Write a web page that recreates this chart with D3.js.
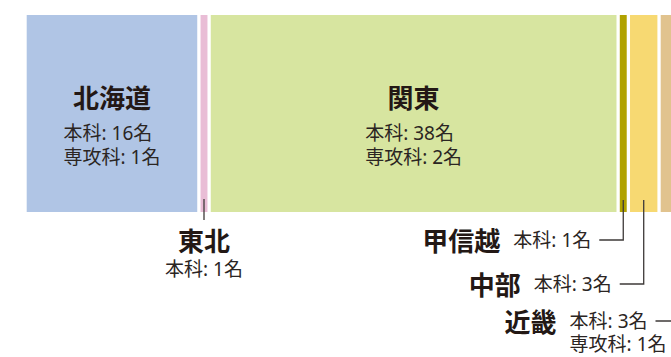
<!DOCTYPE html>
<html lang="ja">
<head>
  <meta charset="UTF-8">
  <title>地域別人数</title>
  <script src="https://d3js.org/d3.v7.min.js"></script>
  <style>
    body { margin: 0; background: #fff; }
    text { font-family: "Noto Sans", "Noto Sans CJK JP", sans-serif; fill: #231815; }
    text.sub { fill: #2b2523; }
  </style>
</head>
<body>
  <div class="canvas"></div>
  <script>
    // 地域ごとの人数（本科・専攻科）
    const regions = ['北海道', '東北', '関東', '甲信越', '中部', '近畿'];
    const honka = [16, 1, 38, 1, 3, 3];
    const senko = [1, 0, 2, 0, 0, 1];

    const palette = ['#b0c5e5', '#e9bdd6', '#d7e5a0', '#b1a200', '#f7d972', '#e1c38e'];

    const width = 671, height = 357;
    const barTop = 15, barBottom = 212, gap = 3.3;

    const svg = d3.select('.canvas')
      .append('svg')
      .attr('width', width)
      .attr('height', height);

    // 累積で横位置を決める
    const data = regions.map((name, i) => ({ name, honka: honka[i], senko: senko[i], total: honka[i] + senko[i], color: palette[i] }));
    let acc = 0;
    data.forEach(d => { d.x0 = acc; acc += d.total; d.x1 = acc; });

    const x = d3.scaleLinear()
      .domain([0, d3.sum(data.filter(d => d.name !== '近畿'), d => d.total)])
      .range([26.7, 660.7]);

    data.forEach(d => {
      d.left = x(d.x0);
      d.right = x(d.x1) - gap;
      d.cx = (d.left + d.right) / 2;
      d.lines = [`本科: ${d.honka}名`].concat(d.senko > 0 ? [`専攻科: ${d.senko}名`] : []);
    });

    svg.selectAll('rect')
      .data(data)
      .enter()
      .append('rect')
      .attr('x', d => d.left)
      .attr('y', barTop)
      .attr('width', d => d.right - d.left)
      .attr('height', barBottom - barTop)
      .attr('fill', d => d.color);

    const titleSize = 26, subSize = 19;

    // 帯の中にラベルを置くもの
    const inside = svg.selectAll('g.inside')
      .data(data.filter(d => d.right - d.left > 100))
      .enter()
      .append('g')
      .attr('class', 'inside');

    inside.append('text')
      .attr('x', d => d.cx)
      .attr('y', 98)
      .attr('text-anchor', 'middle')
      .attr('dominant-baseline', 'central')
      .style('font-size', titleSize + 'px')
      .style('font-weight', 700)
      .text(d => d.name);

    inside.each(function(d) {
      const g = d3.select(this);
      const texts = g.selectAll('text.sub')
        .data(d.lines)
        .enter()
        .append('text')
        .attr('class', 'sub')
        .attr('y', (t, i) => 133 + i * 24)
        .attr('dominant-baseline', 'central')
        .style('font-size', subSize + 'px')
        .text(t => t);
      const w = d3.max(texts.nodes(), n => n.getComputedTextLength());
      texts.attr('x', d.cx - w / 2);
    });

    const lineColor = '#3e3a39';

    // 東北: 真下にラベル
    const tohoku = data.find(d => d.name === '東北');
    svg.append('line')
      .attr('x1', tohoku.cx).attr('x2', tohoku.cx)
      .attr('y1', 199).attr('y2', 220)
      .attr('stroke', lineColor).attr('stroke-width', 1.3);
    svg.append('text')
      .attr('x', tohoku.cx).attr('y', 240.5)
      .attr('text-anchor', 'middle')
      .attr('dominant-baseline', 'central')
      .style('font-size', titleSize + 'px')
      .style('font-weight', 700)
      .text(tohoku.name);
    svg.append('text')
      .attr('class', 'sub')
      .attr('x', tohoku.cx).attr('y', 269)
      .attr('text-anchor', 'middle')
      .attr('dominant-baseline', 'central')
      .style('font-size', subSize + 'px')
      .text(tohoku.lines[0]);

    // 右側の小さい地域: 引き出し線つき
    const rows = { '甲信越': 240, '中部': 284, '近畿': 321 };
    const callouts = data.filter(d => rows[d.name] !== undefined);
    const elbow = 24;

    callouts.forEach(d => {
      const ry = rows[d.name];
      const lx = d.cx - elbow;
      svg.append('path')
        .attr('d', `M${d.cx},200 V${ry} H${lx}`)
        .attr('fill', 'none')
        .attr('stroke', lineColor)
        .attr('stroke-width', 1.3);

      const g = svg.append('g');
      const subs = g.selectAll('text')
        .data(d.lines)
        .enter()
        .append('text')
        .attr('class', 'sub')
        .attr('y', (t, i) => ry + i * 23)
        .attr('dominant-baseline', 'central')
        .style('font-size', subSize + 'px')
        .text(t => t);
      const w0 = subs.nodes()[0].getComputedTextLength();
      const sx = lx - 8 - w0;
      subs.attr('x', sx);
      g.append('text')
        .attr('x', sx - 13)
        .attr('y', ry + 1)
        .attr('text-anchor', 'end')
        .attr('dominant-baseline', 'central')
        .style('font-size', titleSize + 'px')
        .style('font-weight', 700)
        .text(d.name);
    });
  </script>
</body>
</html>
